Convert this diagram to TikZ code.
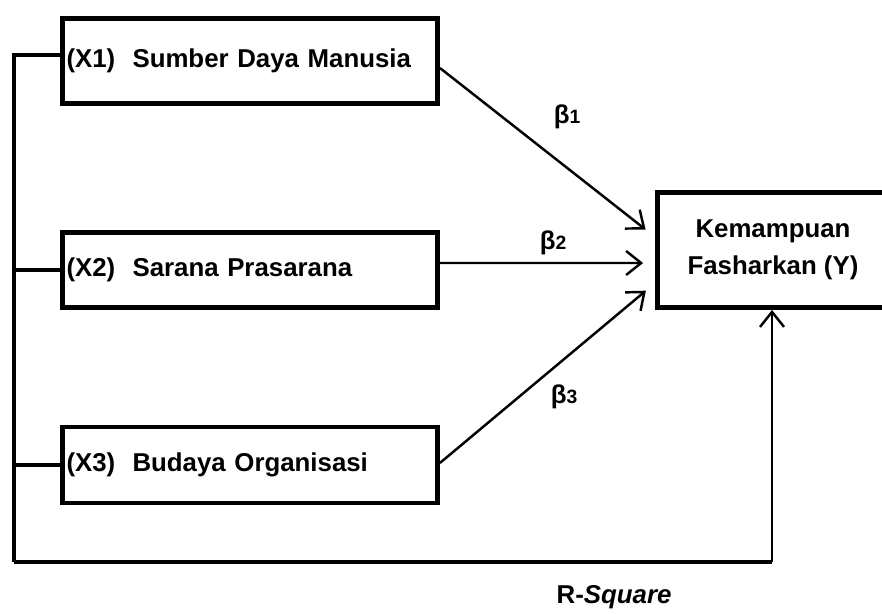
\documentclass[tikz,border=0pt]{standalone}
\usepackage{fontspec}
\setmainfont{Liberation Sans}
\usetikzlibrary{positioning, arrows.meta}

\begin{document}
\begin{tikzpicture}[
    x=0.02cm, y=-0.02cm,
    font=\fontsize{14.7}{21}\selectfont\bfseries,
    varbox/.style={rectangle, draw, line width=2.8pt, minimum width=7.5cm, text width=7.34cm, inner xsep=0.08cm, align=left},
    targetbox/.style={rectangle, draw, line width=2.8pt, minimum width=4.62cm, minimum height=2.3cm, align=center},
    linkline/.style={line width=2pt},
    arrow/.style={-{Straight Barb[length=0.3cm, width=0.48cm, line width=1.4pt]}, line width=1.4pt},
    coef/.style={inner sep=0pt}
]
    \useasboundingbox (0,0) rectangle (882,614);

    % Variables
    \node[varbox, minimum height=1.7cm] (x1) at (250,61) {(X1)\ \ Sumber Daya Manusia};
    \node[varbox, minimum height=1.5cm] (x2) at (250,270) {(X2)\ \ Sarana Prasarana};
    \node[varbox, minimum height=1.52cm] (x3) at (250,465) {(X3)\ \ Budaya Organisasi};
    \node[targetbox] (y) at (773,250) {Kemampuan\\Fasharkan (Y)};

    % Coefficients
    \node[coef] (b1) at (567,117) {β{\fontsize{11}{11}\selectfont 1}};
    \node[coef] (b2) at (553,243) {β{\fontsize{11}{11}\selectfont 2}};
    \node[coef] (b3) at (564,397) {β{\fontsize{11}{11}\selectfont 3}};
    \node[coef] (rsq) at (614,597) {R-\textit{Square}};

    % Arrows
    \draw[arrow, shorten >=0.24cm] ([yshift=-0.14cm]x1.east) -- ([yshift=0.26cm]y.west);
    \draw[arrow, shorten >=0.24cm] ([yshift=0.14cm]x2.east) -- ([yshift=-0.26cm]y.west);
    \draw[arrow, shorten >=0.24cm] ([yshift=0.04cm]x3.east) -- ([yshift=-0.66cm]y.west);

    % Simultaneous path
    \coordinate (corner) at (14,562);
    \draw[linkline] ([yshift=0.12cm]x1.west) -| (corner);
    \draw[linkline] (x2.west) -- (x2.west -| corner);
    \draw[linkline] (x3.west) -- (x3.west -| corner);
    \draw[linkline] (corner) -- ([xshift=-0.02cm]corner -| y.south);
    \draw[arrow] ([xshift=-0.02cm]corner -| y.south) -- ([xshift=-0.02cm]y.south);
\end{tikzpicture}
\end{document}
